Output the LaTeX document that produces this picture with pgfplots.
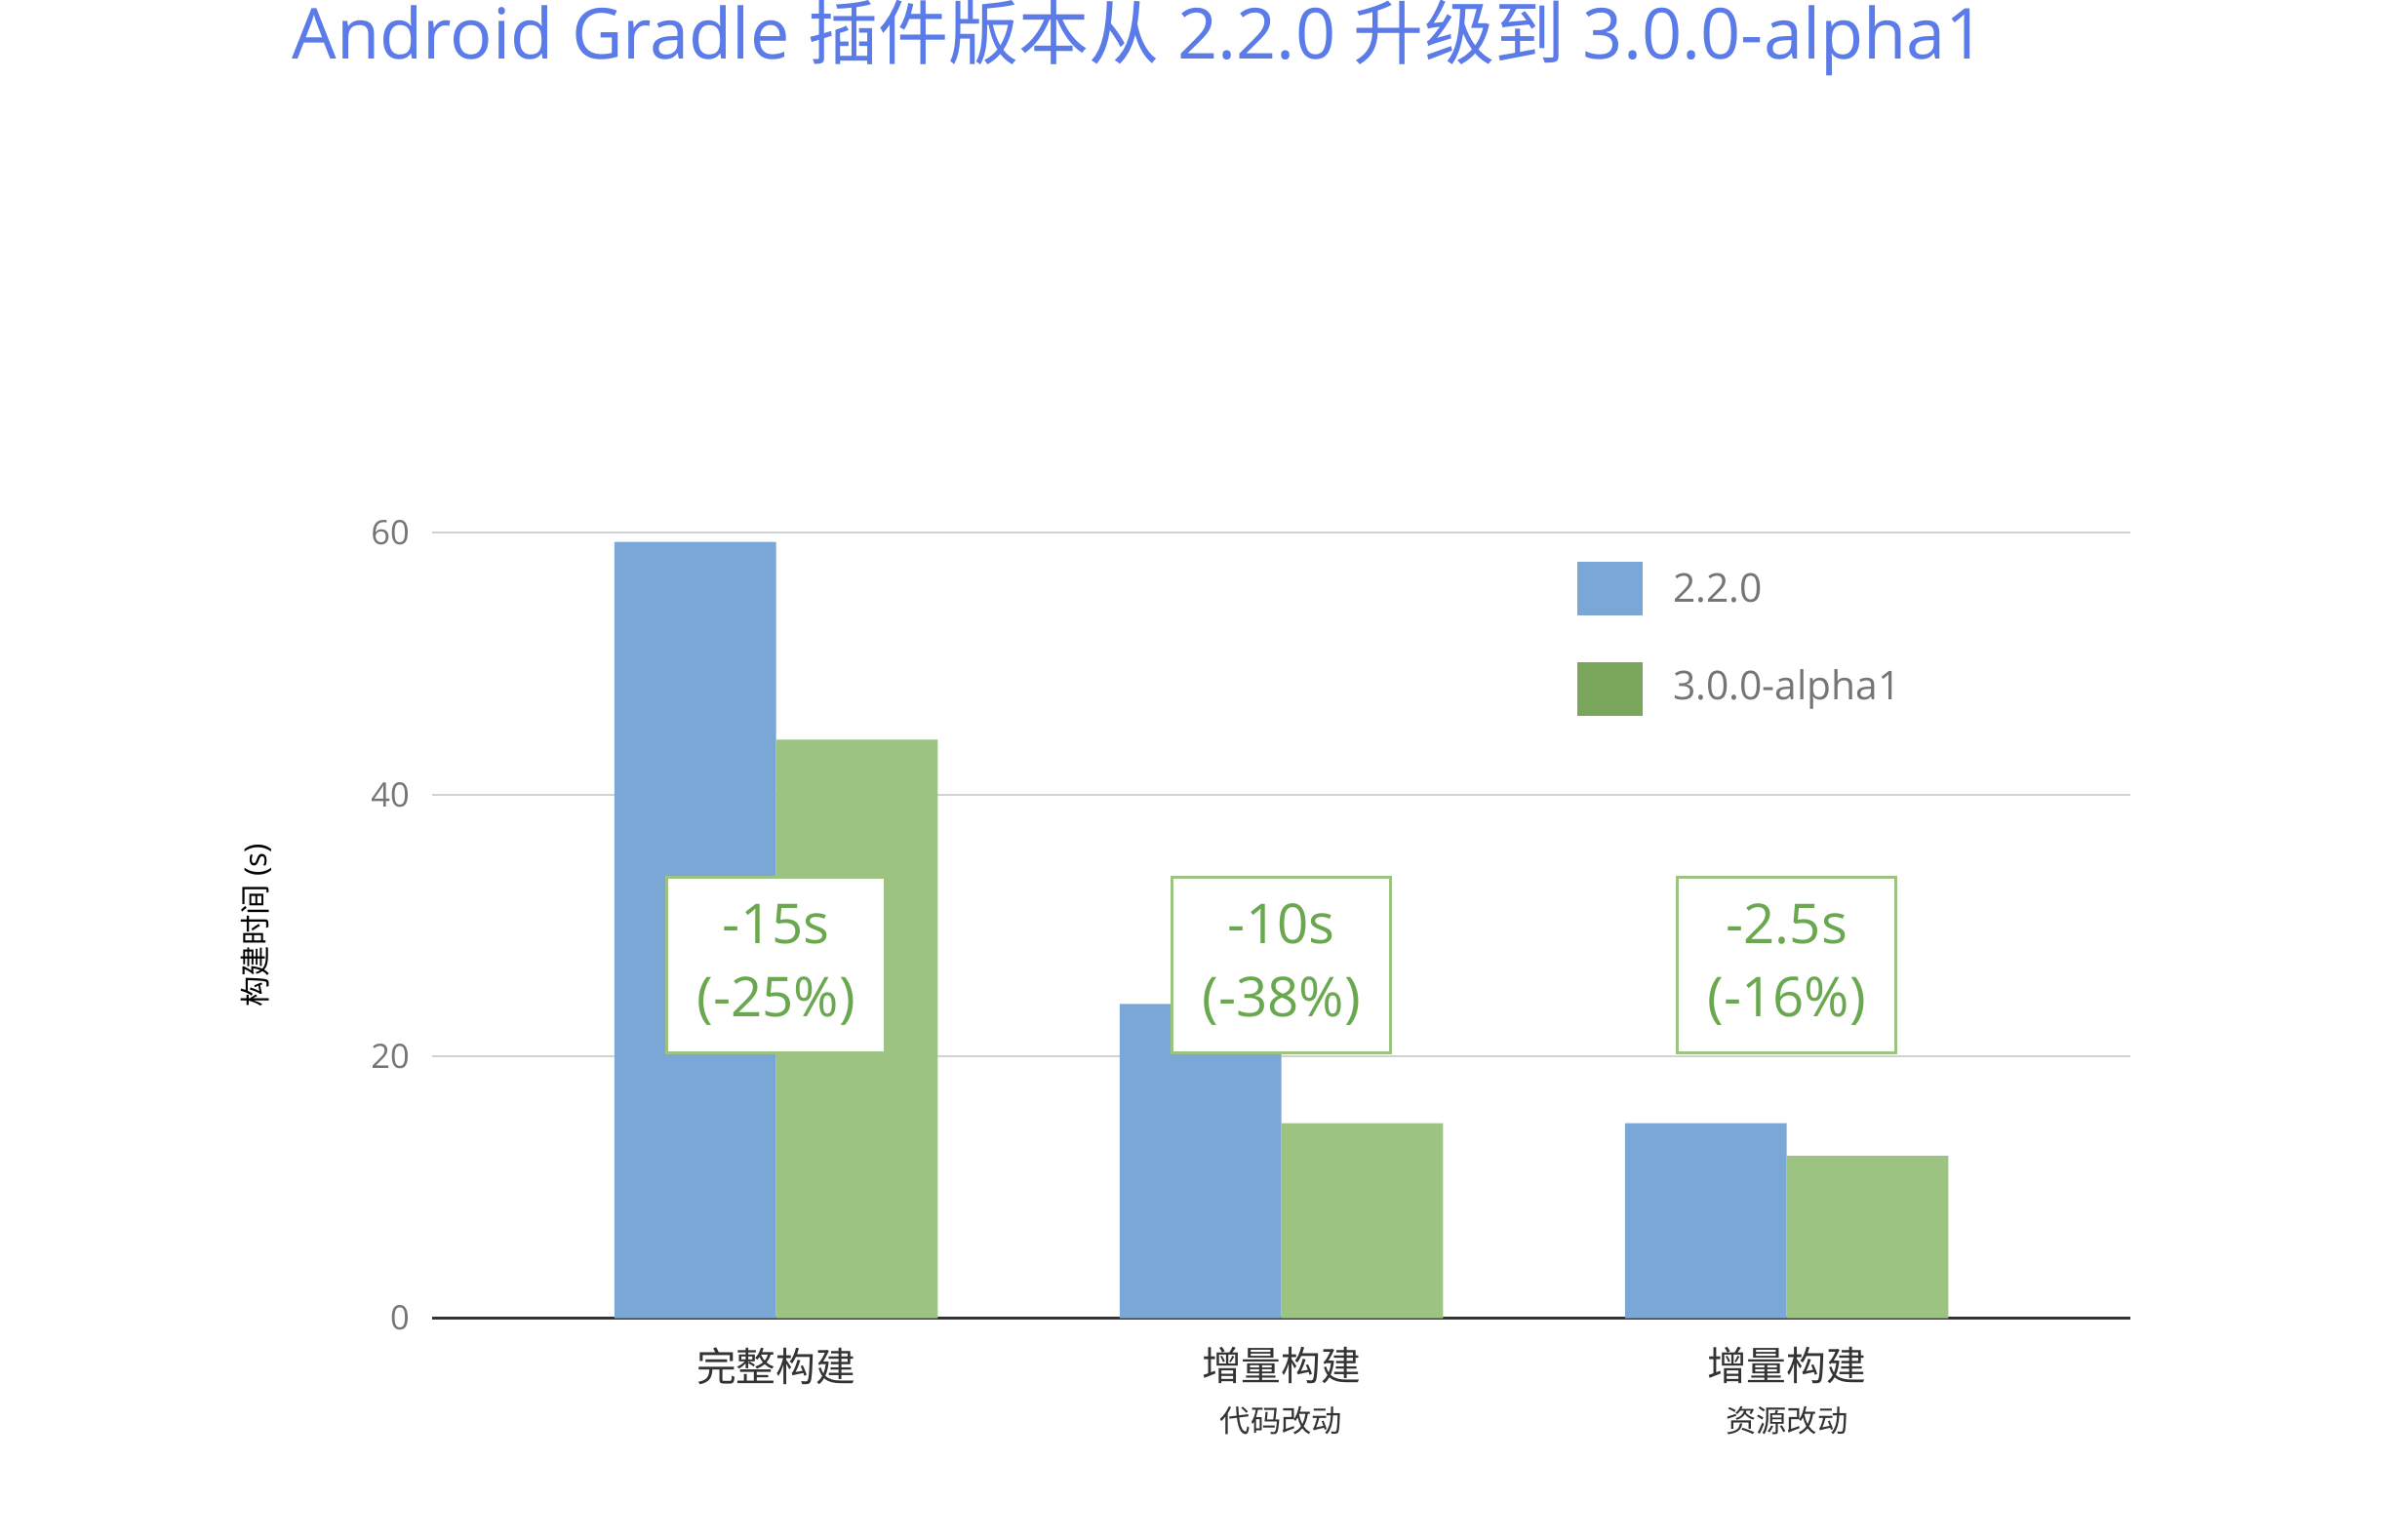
\documentclass[border=0pt]{standalone}
\usepackage{pgfplots}
\pgfplotsset{compat=1.18}
\usepackage{fontspec}
\setmainfont{Open Sans}
\newfontfamily\cjk{Noto Sans CJK SC}
\definecolor{bblue}{HTML}{7BA7D7}
\definecolor{bgreen}{HTML}{9DC383}
\definecolor{lgreen}{HTML}{79A65B}
\definecolor{agreen}{HTML}{6AA84F}
\definecolor{tblue}{HTML}{5B7BE8}
\definecolor{tgray}{HTML}{757575}
\begin{document}
\begin{tikzpicture}
\path (-141.5pt,-72.5pt) rectangle (638.5pt,365.5pt);
\begin{axis}[
  at={(0,0)}, anchor=south west,
  scale only axis, width=555.5pt, height=257pt,
  xmin=-0.68, xmax=2.68, ymin=0, ymax=60,
  ybar=0pt, bar width=0.32,
  xtick={0,1,2}, xticklabels={{\cjk 完整构建},{\cjk 增量构建\\[2pt]{\fontsize{10}{12}\selectfont\cjk 代码改动}},{\cjk 增量构建\\[2pt]{\fontsize{10}{12}\selectfont\cjk 资源改动}}},
  xticklabel style={align=center, anchor=north, yshift=-6pt, font=\fontsize{13}{15}\selectfont, text=black!80},
  ytick={0,20,40,60}, ymajorgrids, grid style={gray!35, line width=0.6pt},
  major tick length=0pt,
  axis x line*=bottom, axis y line*=left,
  x axis line style={black!80, line width=0.7pt, -},
  y axis line style={draw=none},
  yticklabel style={font=\fontsize{11}{13}\selectfont, text=tgray, xshift=-4pt},
  /pgf/number format/assume math mode=true,
  ylabel={{\cjk 构建时间} (s)}, ylabel style={font=\fontsize{12}{14}\selectfont, text=tgray},
  every axis y label/.style={at={(rel axis cs:0,0.5)}, xshift=-57.5pt, rotate=90, anchor=center},
  clip=false,
]
\addplot[fill=bblue, draw=none, bar shift=-0.16] coordinates {(0,59.3) (1,24.0) (2,14.9)};
\addplot[fill=bgreen, draw=none, bar shift=0.16] coordinates {(0,44.2) (1,14.9) (2,12.4)};
\foreach \xx/\t/\p in {0/-15s/(-25\%), 1/-10s/(-38\%), 2/-2.5s/(-16\%)}{
  \edef\tmp{\noexpand\node[draw=bgreen, line width=1pt, fill=white, minimum width=71.5pt, minimum height=57.5pt, align=center, text=agreen, font=\noexpand\fontsize{18}{24}\noexpand\selectfont, inner sep=0pt] at (axis cs:\xx,27) {\t\noexpand\\\p};}
  \tmp
}
\fill[bblue] (rel axis cs:0.674,0.963) rectangle ++(21.5pt,-17.5pt);
\fill[lgreen] (rel axis cs:0.674,0.835) rectangle ++(21.5pt,-17.5pt);
\node[anchor=west, text=tgray, font=\fontsize{13}{15}\selectfont] at ([xshift=28pt,yshift=-8.75pt]rel axis cs:0.674,0.963) {2.2.0};
\node[anchor=west, text=tgray, font=\fontsize{13}{15}\selectfont] at ([xshift=28pt,yshift=-8.75pt]rel axis cs:0.674,0.835) {3.0.0-alpha1};
\node[anchor=west, text=tblue, font=\fontsize{23}{27}\selectfont, inner sep=0pt] at (rel axis cs:-0.083,1.63) {Android Gradle {\cjk 插件版本从} 2.2.0 {\cjk 升级到} 3.0.0-alpha1};
\end{axis}
\end{tikzpicture}
\end{document}
